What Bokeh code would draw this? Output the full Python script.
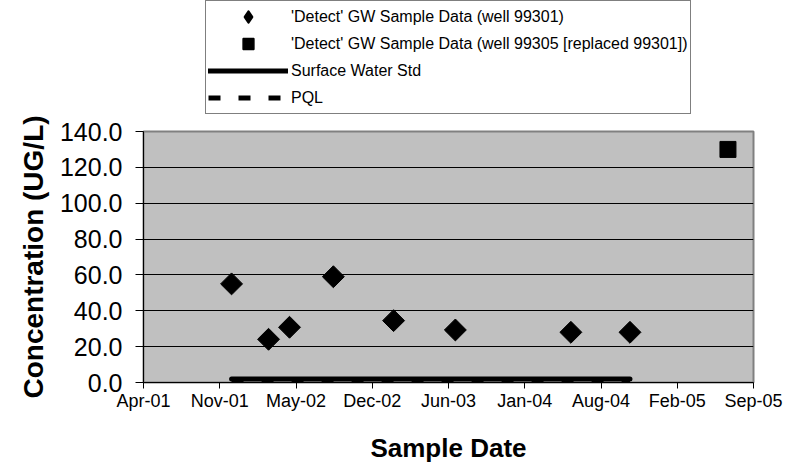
import numpy as np
import pandas as pd
from bokeh.plotting import figure
from bokeh.layouts import column
from bokeh.models import (Range1d, FixedTicker, DatetimeTickFormatter, PrintfTickFormatter,
                          Legend, LegendItem, ColumnDataSource)
from bokeh.embed import file_html
from bokeh.resources import INLINE

# ---- data ----
well_99301_dates = ["2001-12-06", "2002-03-13", "2002-05-07", "2002-08-30",
                    "2003-02-04", "2003-07-16", "2004-05-14", "2004-10-16"]
well_99301_values = [55.0, 24.1, 30.8, 59.0, 34.5, 29.3, 28.0, 28.0]

well_99305_dates = ["2005-06-30"]
well_99305_values = [130.0]

std_dates = ["2001-12-06", "2004-10-16"]
surface_water_std = [2.0, 2.0]
pql_values = [1.0, 1.0]

x_tick_dates = ["2001-04-19", "2001-11-05", "2002-05-24", "2002-12-10", "2003-06-28",
                "2004-01-14", "2004-08-01", "2005-02-17", "2005-09-05"]
y_ticks = [0, 20, 40, 60, 80, 100, 120, 140]

labels = ["'Detect' GW Sample Data (well 99301)",
          "'Detect' GW Sample Data (well 99305 [replaced 99301])",
          "Surface Water Std",
          "PQL"]

FONT = "Liberation Sans"
W, H = 795, 467
LEG_H = 115


def to_ms(dates):
    return list((pd.to_datetime(dates) - pd.Timestamp("1970-01-01")) // pd.Timedelta(milliseconds=1))


src1 = ColumnDataSource(dict(x=pd.to_datetime(well_99301_dates), y=well_99301_values))
src2 = ColumnDataSource(dict(x=pd.to_datetime(well_99305_dates), y=well_99305_values))
src_std = ColumnDataSource(dict(x=pd.to_datetime(std_dates), sw=surface_water_std, pql=pql_values))

tick_ms = to_ms(x_tick_dates)

SW_STYLE = dict(line_color="black", line_width=5, line_cap="round")
PQL_STYLE = dict(line_color="black", line_width=5, line_dash="12 18", line_cap="butt")
DIAMOND_STYLE = dict(marker="square", angle=np.pi / 4, fill_color="black", line_color="black")
SQUARE_STYLE = dict(marker="square", fill_color="black", line_color="black")

# ---------------- main chart ----------------
p = figure(width=W, height=H - LEG_H, x_axis_type="datetime",
           x_range=Range1d(start=tick_ms[0], end=tick_ms[-1]),
           y_range=Range1d(start=y_ticks[0], end=y_ticks[-1]),
           output_backend="svg", toolbar_location=None,
           min_border_left=143, min_border_right=42, min_border_top=16, min_border_bottom=85)

p.background_fill_color = "#C0C0C0"
p.border_fill_color = "white"
p.outline_line_color = "#808080"
p.outline_line_width = 2

p.xgrid.grid_line_color = None
p.ygrid.ticker = FixedTicker(ticks=y_ticks)
p.ygrid.grid_line_color = "black"
p.ygrid.grid_line_width = 1

xa = p.xaxis[0]
xa.ticker = FixedTicker(ticks=tick_ms)
fmt = "%b-%y"
xa.formatter = DatetimeTickFormatter(microseconds=fmt, milliseconds=fmt, seconds=fmt, minsec=fmt,
                                     minutes=fmt, hourmin=fmt, hours=fmt, days=fmt,
                                     months=fmt, years=fmt)
xa.axis_label = "Sample Date"
xa.major_tick_out = 6
xa.major_tick_in = 0
xa.minor_tick_line_color = None
xa.axis_line_color = "black"
xa.major_tick_line_color = "black"
xa.major_label_text_font = FONT
xa.major_label_text_font_size = "18px"
xa.major_label_text_color = "black"
xa.major_label_standoff = 2
xa.axis_label_text_font = FONT
xa.axis_label_text_font_size = "26px"
xa.axis_label_text_font_style = "bold"
xa.axis_label_text_color = "black"
xa.axis_label_standoff = 19

ya = p.yaxis[0]
ya.ticker = FixedTicker(ticks=y_ticks)
ya.formatter = PrintfTickFormatter(format="%.1f")
ya.axis_label = "Concentration (UG/L)"
ya.major_tick_out = 8
ya.major_tick_in = 0
ya.minor_tick_line_color = None
ya.axis_line_color = "black"
ya.major_tick_line_color = "black"
ya.major_label_text_font = FONT
ya.major_label_text_font_size = "25px"
ya.major_label_text_color = "black"
ya.major_label_standoff = 13
ya.axis_label_text_font = FONT
ya.axis_label_text_font_size = "28px"
ya.axis_label_text_font_style = "bold"
ya.axis_label_text_color = "black"
ya.axis_label_standoff = 8

p.line("x", "pql", source=src_std, **PQL_STYLE)
p.line("x", "sw", source=src_std, **SW_STYLE)
p.scatter("x", "y", source=src1, size=15.5, **DIAMOND_STYLE)
p.scatter("x", "y", source=src2, size=16, **SQUARE_STYLE)

# ---------------- legend strip (same data, range chosen so only the legend shows) ----------------
lf = figure(width=W, height=LEG_H, x_range=Range1d(0, 1), y_range=Range1d(0, 1),
            x_axis_location=None, y_axis_location=None,
            output_backend="svg", toolbar_location=None,
            min_border_left=0, min_border_right=0, min_border_top=0, min_border_bottom=0)
lf.outline_line_color = None
lf.background_fill_color = "white"
lf.border_fill_color = "white"
lf.xgrid.visible = False
lf.ygrid.visible = False

l4 = lf.line("x", "pql", source=src_std, **PQL_STYLE)
l3 = lf.line("x", "sw", source=src_std, **SW_STYLE)
l1 = lf.scatter("x", "y", source=src1, marker="diamond", size=15.5,
                fill_color="black", line_color="black", line_width=2.5, line_join="round")
l2 = lf.scatter("x", "y", source=src2, size=16, line_width=1.5, **SQUARE_STYLE)

legend = Legend(items=[LegendItem(label=labels[0], renderers=[l1]),
                       LegendItem(label=labels[1], renderers=[l2]),
                       LegendItem(label=labels[2], renderers=[l3]),
                       LegendItem(label=labels[3], renderers=[l4])],
                location=(62, 1), orientation="vertical",
                glyph_width=80, glyph_height=27, label_height=27, spacing=0,
                padding=2, margin=0, label_standoff=3,
                label_text_font=FONT, label_text_font_size="16px",
                label_text_color="black", label_text_baseline="middle",
                border_line_color="black", border_line_width=1,
                background_fill_color="white", background_fill_alpha=1.0)
lf.add_layout(legend, "center")

layout = column(lf, p, spacing=0)
open("out.html", "w").write(file_html(layout, INLINE))
